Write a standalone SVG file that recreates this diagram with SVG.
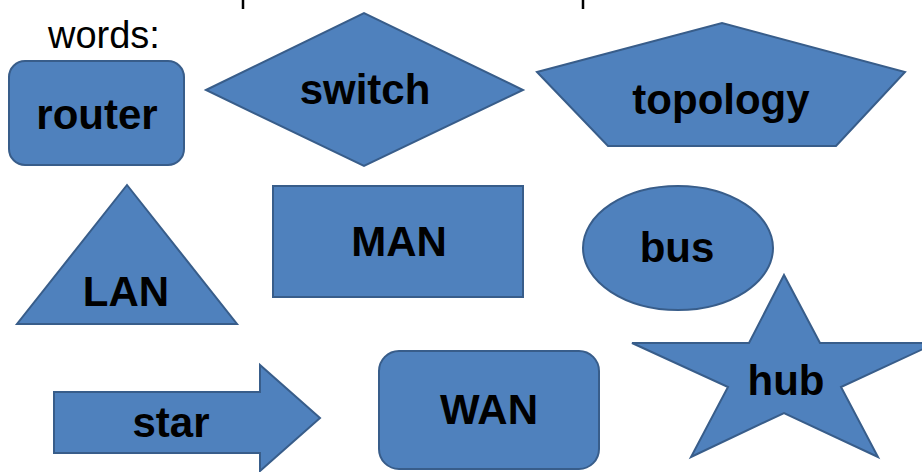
<svg xmlns="http://www.w3.org/2000/svg" width="922" height="472" viewBox="0 0 922 472">
<style>
.s{fill:#4F81BD;stroke:#385D8A;stroke-width:2}
.t{font-family:"Liberation Sans",Arial,sans-serif;font-weight:bold;font-size:42px;fill:#000;text-anchor:middle}
.w{font-family:"Liberation Sans",Arial,sans-serif;font-size:38px;fill:#000}
</style>
<rect width="922" height="472" fill="#fff"/>
<g id="header">
<line x1="243" y1="0" x2="243" y2="9" stroke="#000" stroke-width="2.5"/>
<line x1="583" y1="0" x2="583" y2="9" stroke="#000" stroke-width="2.5"/>
<text class="w" x="48" y="48">words:</text>
</g>
<g id="router"><rect class="s" x="9" y="61" width="175" height="104" rx="16"/><text class="t" x="97" y="129">router</text></g>
<g id="switch"><polygon class="s" points="206,90 364,13 523,90 364,166"/><text class="t" x="365" y="104">switch</text></g>
<g id="topology"><polygon class="s" points="537,72 722,23 905,72 836,146 608,146"/><text class="t" x="721" y="114">topology</text></g>
<g id="LAN"><polygon class="s" points="127,185 237,324 17,324"/><text class="t" x="126" y="306">LAN</text></g>
<g id="MAN"><rect class="s" x="273" y="186" width="250" height="111"/><text class="t" x="399" y="256">MAN</text></g>
<g id="bus"><ellipse class="s" cx="678" cy="248" rx="95" ry="62"/><text class="t" x="677" y="262">bus</text></g>
<g id="hub"><polygon class="s" points="784,275 820,343 936,343 841,387 878,457 784,413 691,457 728,387 632,343 749,343"/><text class="t" x="786" y="395">hub</text></g>
<g id="star"><polygon class="s" points="54,392 260,392 260,365 320,418 260,471 260,453 54,453"/><text class="t" x="171" y="437">star</text></g>
<g id="WAN"><rect class="s" x="379" y="351" width="220" height="118" rx="20"/><text class="t" x="489" y="424">WAN</text></g>
<g id="connectors"></g>
</svg>
